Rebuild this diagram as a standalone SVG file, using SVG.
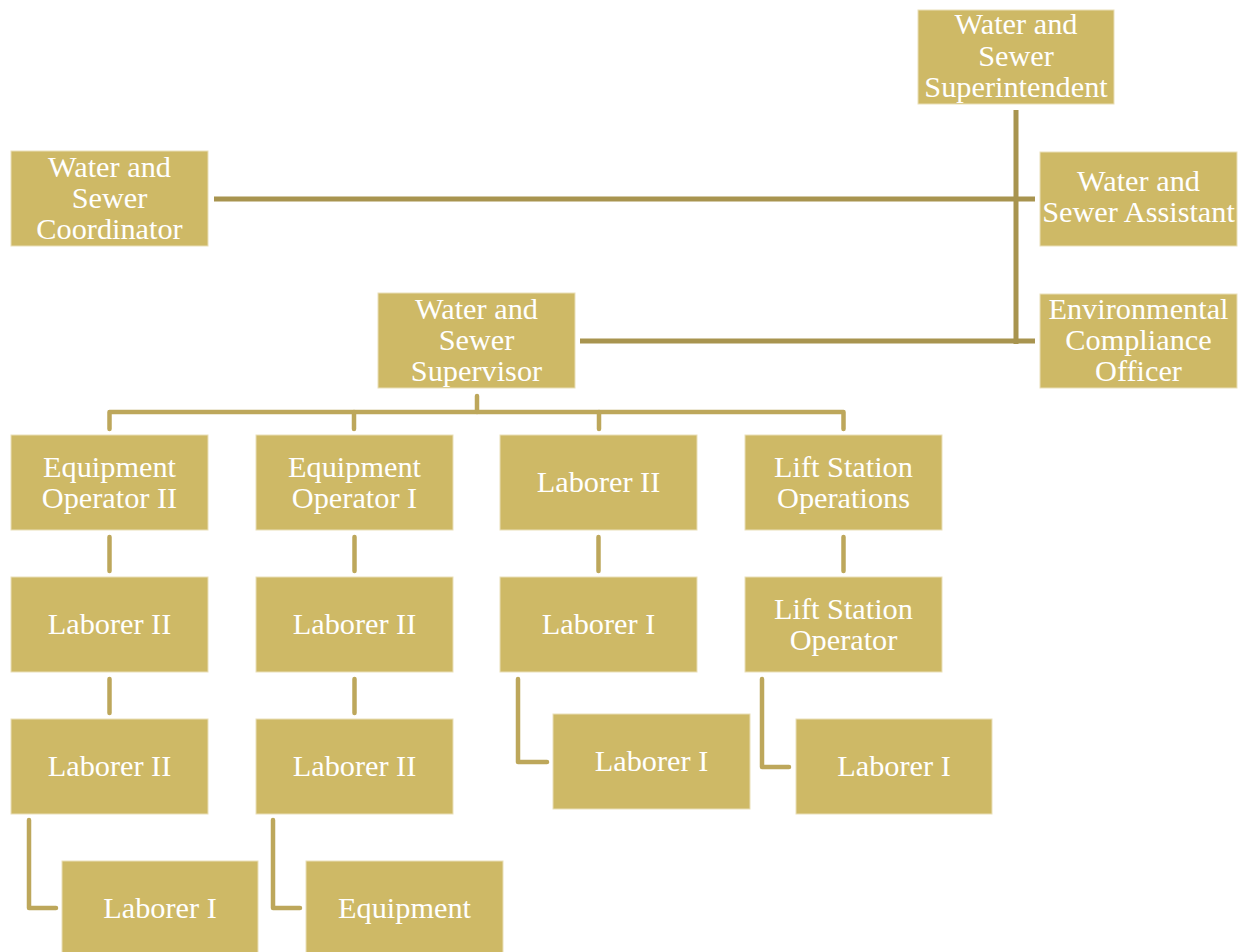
<svg xmlns="http://www.w3.org/2000/svg" width="1243" height="952" viewBox="0 0 1243 952">
  <style>
    .box { fill: #CEB966; stroke: #EADFB8; stroke-width: 1; }
    .lbl { fill: #FFFFFF; font-family: "Liberation Serif", "Times New Roman", serif; font-size: 30.3px; text-anchor: middle; }
    .top { fill: none; stroke: #A8944F; stroke-width: 5; }
    .sub { fill: none; stroke: #BDA75B; stroke-width: 4.5; stroke-linejoin: round; stroke-linecap: round; }
  </style>
  <rect width="1243" height="952" fill="#FFFFFF"/>

  <!-- connectors -->
  <g id="connectors">
    <line class="top" x1="1016" y1="110" x2="1016" y2="344"/>
    <line class="top" x1="214" y1="199" x2="1035" y2="199"/>
    <line class="top" x1="580" y1="341" x2="1035" y2="341"/>
    <path class="sub" d="M477 396 V412"/>
    <path class="sub" d="M109.5 429 V412 H843.5 V429"/>
    <path class="sub" d="M354 412 V429"/>
    <path class="sub" d="M599 412 V429"/>
    <path class="sub" d="M109.5 537 V571"/>
    <path class="sub" d="M354.5 537 V571"/>
    <path class="sub" d="M598.5 537 V571"/>
    <path class="sub" d="M843.5 537 V571"/>
    <path class="sub" d="M109.5 679 V713"/>
    <path class="sub" d="M354.5 679 V713"/>
    <path class="sub" d="M518 679 V762 H547"/>
    <path class="sub" d="M762 679 V767 H789"/>
    <path class="sub" d="M29 820 V908 H56"/>
    <path class="sub" d="M273 820 V908 H300"/>
  </g>

  <g id="superintendent">
    <rect class="box" x="918" y="10" width="196" height="94"/>
    <text class="lbl" x="1016" y="34">Water and</text>
    <text class="lbl" x="1016" y="66">Sewer</text>
    <text class="lbl" x="1016" y="97">Superintendent</text>
  </g>
  <g id="coordinator">
    <rect class="box" x="11" y="151" width="197" height="95"/>
    <text class="lbl" x="109.5" y="177">Water and</text>
    <text class="lbl" x="109.5" y="208">Sewer</text>
    <text class="lbl" x="109.5" y="239">Coordinator</text>
  </g>
  <g id="assistant">
    <rect class="box" x="1040" y="152" width="197" height="94"/>
    <text class="lbl" x="1138.5" y="191">Water and</text>
    <text class="lbl" x="1138.5" y="222">Sewer Assistant</text>
  </g>
  <g id="compliance-officer">
    <rect class="box" x="1040" y="294" width="197" height="94"/>
    <text class="lbl" x="1138.5" y="319">Environmental</text>
    <text class="lbl" x="1138.5" y="350">Compliance</text>
    <text class="lbl" x="1138.5" y="381">Officer</text>
  </g>
  <g id="supervisor">
    <rect class="box" x="378" y="293" width="197" height="95"/>
    <text class="lbl" x="476.5" y="319">Water and</text>
    <text class="lbl" x="476.5" y="350">Sewer</text>
    <text class="lbl" x="476.5" y="381">Supervisor</text>
  </g>

  <g id="equipment-operator-2">
    <rect class="box" x="11" y="435" width="197" height="95"/>
    <text class="lbl" x="109.5" y="477">Equipment</text>
    <text class="lbl" x="109.5" y="508">Operator II</text>
  </g>
  <g id="equipment-operator-1">
    <rect class="box" x="256" y="435" width="197" height="95"/>
    <text class="lbl" x="354.5" y="477">Equipment</text>
    <text class="lbl" x="354.5" y="508">Operator I</text>
  </g>
  <g id="laborer-2-c">
    <rect class="box" x="500" y="435" width="197" height="95"/>
    <text class="lbl" x="598.5" y="492">Laborer II</text>
  </g>
  <g id="lift-station-operations">
    <rect class="box" x="745" y="435" width="197" height="95"/>
    <text class="lbl" x="843.5" y="477">Lift Station</text>
    <text class="lbl" x="843.5" y="508">Operations</text>
  </g>

  <g id="laborer-2-a1">
    <rect class="box" x="11" y="577" width="197" height="95"/>
    <text class="lbl" x="109.5" y="634">Laborer II</text>
  </g>
  <g id="laborer-2-b1">
    <rect class="box" x="256" y="577" width="197" height="95"/>
    <text class="lbl" x="354.5" y="634">Laborer II</text>
  </g>
  <g id="laborer-1-c1">
    <rect class="box" x="500" y="577" width="197" height="95"/>
    <text class="lbl" x="598.5" y="634">Laborer I</text>
  </g>
  <g id="lift-station-operator">
    <rect class="box" x="745" y="577" width="197" height="95"/>
    <text class="lbl" x="843.5" y="619">Lift Station</text>
    <text class="lbl" x="843.5" y="650">Operator</text>
  </g>

  <g id="laborer-2-a2">
    <rect class="box" x="11" y="719" width="197" height="95"/>
    <text class="lbl" x="109.5" y="776">Laborer II</text>
  </g>
  <g id="laborer-2-b2">
    <rect class="box" x="256" y="719" width="197" height="95"/>
    <text class="lbl" x="354.5" y="776">Laborer II</text>
  </g>
  <g id="laborer-1-c2">
    <rect class="box" x="553" y="714" width="197" height="95"/>
    <text class="lbl" x="651.5" y="771">Laborer I</text>
  </g>
  <g id="laborer-1-d">
    <rect class="box" x="796" y="719" width="196" height="95"/>
    <text class="lbl" x="894" y="776">Laborer I</text>
  </g>

  <g id="laborer-1-a">
    <rect class="box" x="62" y="861" width="196" height="95"/>
    <text class="lbl" x="160" y="918">Laborer I</text>
  </g>
  <g id="equipment">
    <rect class="box" x="306" y="861" width="197" height="95"/>
    <text class="lbl" x="404.5" y="918">Equipment</text>
  </g>
</svg>
